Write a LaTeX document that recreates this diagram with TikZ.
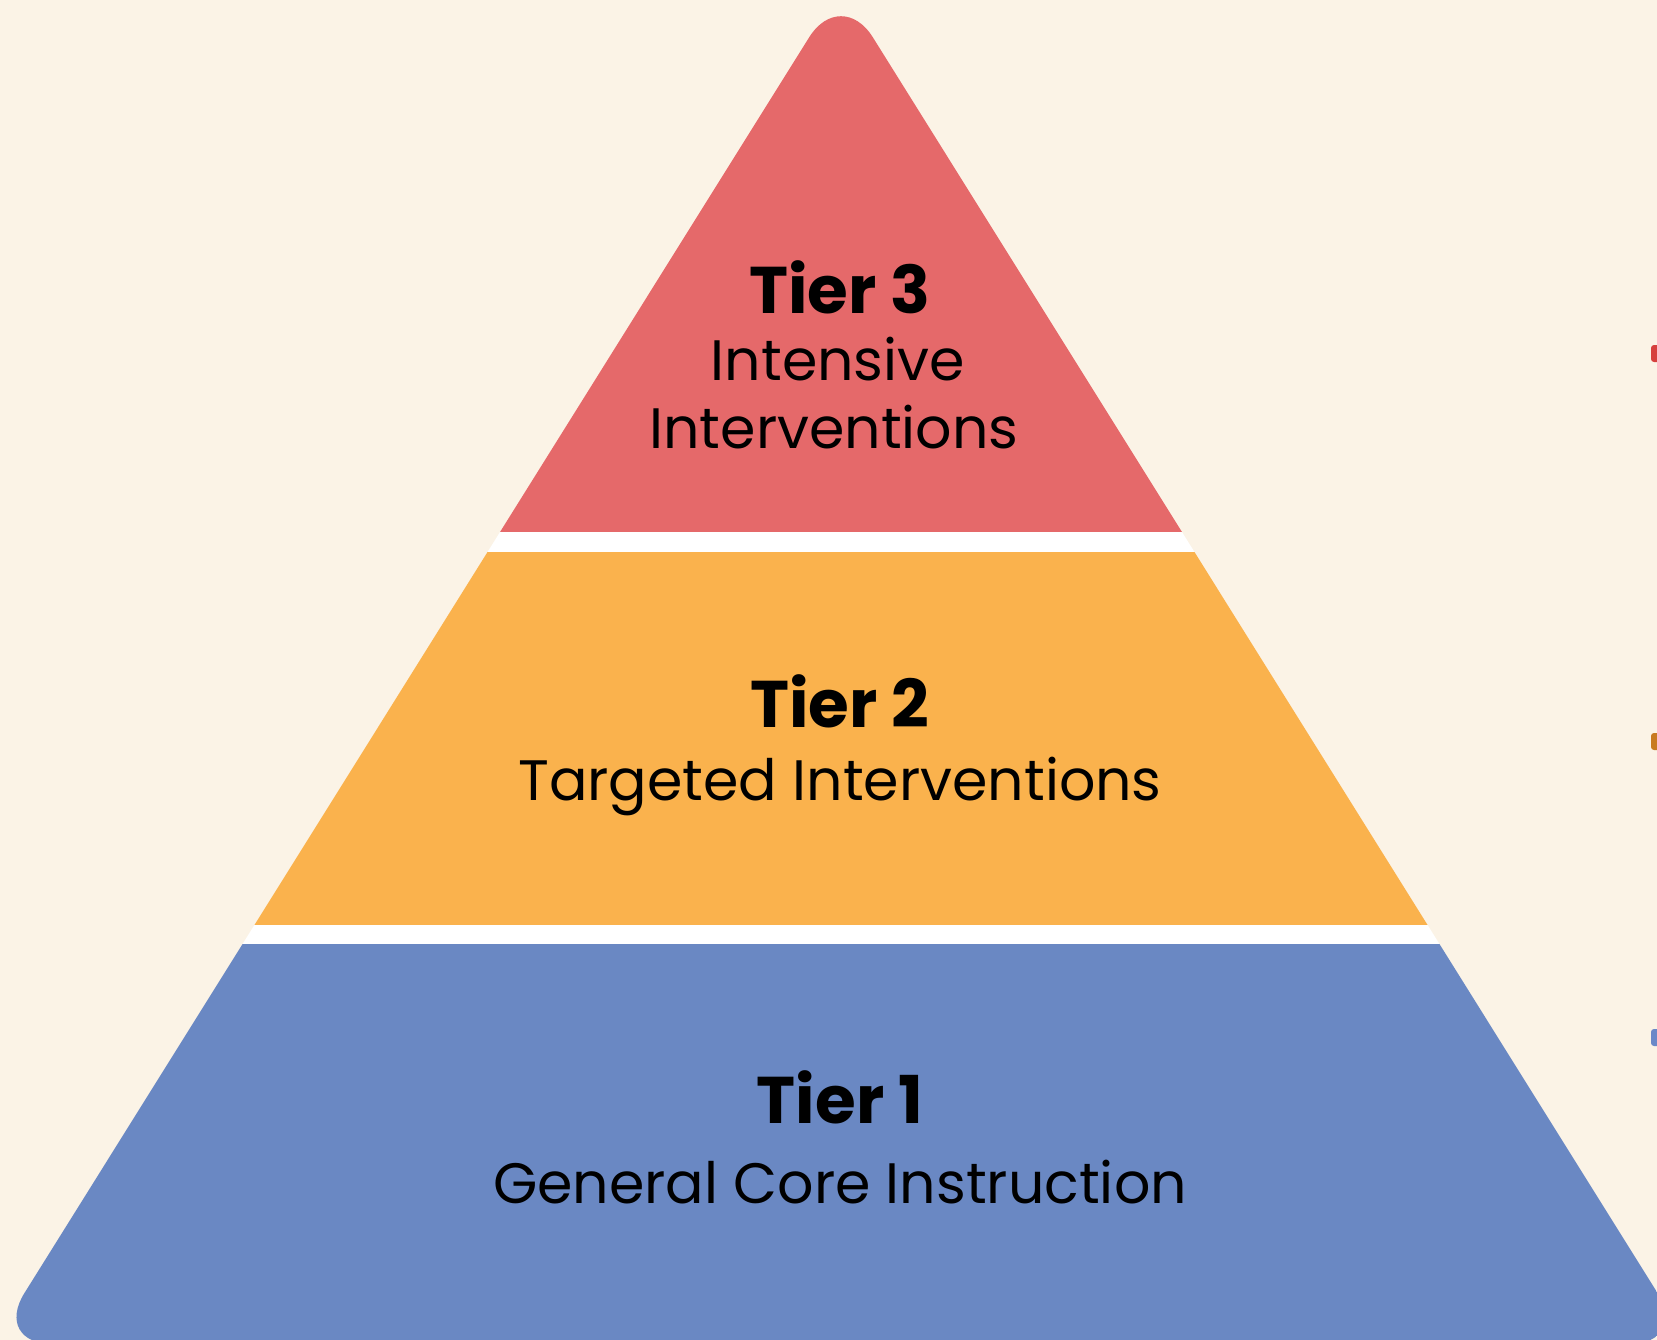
\documentclass[tikz,border=0pt]{standalone}
\usepackage{fontspec}
\setmainfont{Poppins}
\definecolor{bg}{RGB}{251,243,230}
\definecolor{tred}{RGB}{229,105,106}
\definecolor{torange}{RGB}{250,178,77}
\definecolor{tblue}{RGB}{106,136,195}
\definecolor{mred}{RGB}{214,64,62}
\definecolor{morange}{RGB}{200,122,32}
\definecolor{mblue}{RGB}{106,136,200}
\tikzset{
  tiertitle/.style={anchor=base, inner sep=0pt, font=\fontsize{66}{78}\selectfont\bfseries, text=black},
  tiertext/.style={anchor=base, inner sep=0pt, font=\fontsize{57}{68}\selectfont, text=black},
  edgemark/.style={rounded corners=3pt}
}
\begin{document}
\begin{tikzpicture}[x=1pt,y=-1pt]
\useasboundingbox (0,0) rectangle (1657,1340);
\fill[bg] (0,0) rectangle (1657,1340);
\coordinate (apex) at (841,-13.6);
\coordinate (bl) at (-7.4,1344);
\coordinate (br) at (1689.4,1344);
\begin{scope}
  \clip (0,0) rectangle (1657,1340);
  \clip[rounded corners=60pt] (apex) -- (br) -- (bl) -- cycle;
  \fill[tred] (-10,-20) rectangle (1700,532);
  \fill[white] (-10,532) rectangle (1700,552);
  \fill[torange] (-10,552) rectangle (1700,925);
  \fill[white] (-10,925) rectangle (1700,944);
  \fill[tblue] (-10,944) rectangle (1700,1360);
\end{scope}
\fill[mred,edgemark] (1651,345) rectangle (1670,362);
\fill[morange,edgemark] (1651,733) rectangle (1670,750);
\fill[mblue,edgemark] (1651,1029) rectangle (1670,1046);
\node[tiertitle] (t3) at (840,313) {Tier 3};
\node[tiertext] (t3a) at (838,380) {Intensive};
\node[tiertext] (t3b) at (834,448) {Interventions};
\node[tiertitle] (t2) at (840,727) {Tier 2};
\node[tiertext] (t2a) at (840,800) {Targeted Interventions};
\node[tiertitle] (t1) at (840,1123) {Tier 1};
\node[tiertext] (t1a) at (840,1203) {General Core Instruction};
\end{tikzpicture}
\end{document}
